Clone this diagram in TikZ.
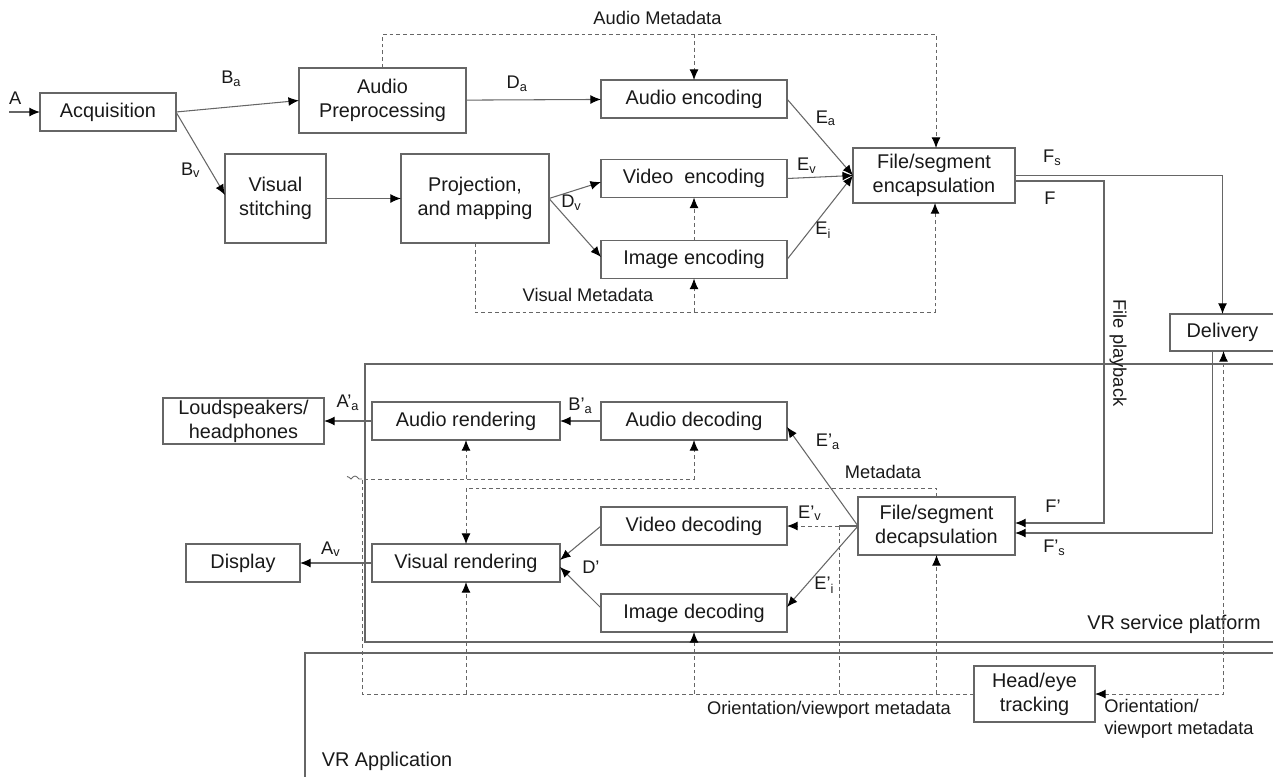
\documentclass[tikz,border=0pt]{standalone}
\usepackage{fontspec}
\setmainfont{Liberation Sans}
\usepackage{tikz}
\usetikzlibrary{positioning}
\usetikzlibrary{arrows.meta}
\definecolor{linegray}{gray}{0.4}
\definecolor{textgray}{gray}{0.1}
\def\boxfont{\fontsize{11.3}{13.6}\selectfont}
\def\lblfont{\fontsize{10.4}{12.5}\selectfont}

\begin{document}
\begin{tikzpicture}[
    >={Latex[length=6pt,width=5pt,color=black]},
    color=linegray, text=textgray, line width=0.6pt,
    box/.style={draw, rectangle, inner xsep=1pt, inner ysep=0.5pt, outer sep=0pt, align=center, font=\boxfont},
    lbl/.style={inner sep=1pt, font=\lblfont},
    meta/.style={line width=0.5pt, dash pattern=on 2.2pt off 1.7pt}]
    \useasboundingbox (0,0) rectangle (25.46,-15.52);
    \node[box, minimum width=2.72cm, minimum height=0.76cm] (acq) at (2.16,-2.24) {Acquisition};
    \node[box, minimum width=3.34cm, minimum height=1.30cm, right=2.46cm of acq, yshift=0.23cm] (apre) {Audio\\Preprocessing};
    \node[box, minimum width=2.02cm, minimum height=1.78cm, below right=0.46cm and 0.98cm of acq] (vst) {Visual\\stitching};
    \node[box, minimum width=2.96cm, minimum height=1.78cm, right=1.5cm of vst] (proj) {Projection,\\and mapping};
    \node[box, minimum width=3.72cm, minimum height=0.76cm, right=2.7cm of apre, yshift=0.03cm] (aenc) {Audio encoding};
    \node[box, minimum width=3.72cm, minimum height=0.76cm, right=1.04cm of proj, yshift=0.4cm] (venc) {Video\ \ encoding};
    \node[box, minimum width=3.72cm, minimum height=0.76cm, below=0.86cm of venc] (ienc) {Image encoding};
    \node[box, minimum width=3.24cm, minimum height=1.10cm, right=1.32cm of venc, yshift=0.06cm] (encap) {File/segment\\encapsulation};
    \node[box, minimum width=2.1cm, minimum height=0.74cm, below right=2.22cm and 3.1cm of encap] (deliv) {Delivery};

    \node[box, minimum width=3.72cm, minimum height=0.76cm, below=5.68cm of aenc] (adec) {Audio decoding};
    \node[box, minimum width=3.76cm, minimum height=0.76cm, left=0.82cm of adec] (aren) {Audio rendering};
    \node[box, minimum width=3.22cm, minimum height=0.92cm, left=0.96cm of aren] (spk) {Loudspeakers/\\headphones};
    \node[box, minimum width=3.72cm, minimum height=0.76cm, below=1.34cm of adec] (vdec) {Video decoding};
    \node[box, minimum width=3.72cm, minimum height=0.76cm, below=0.98cm of vdec] (idec) {Image decoding};
    \node[box, minimum width=3.76cm, minimum height=0.76cm, below=2.08cm of aren] (vren) {Visual rendering};
    \node[box, minimum width=2.28cm, minimum height=0.76cm, left=1.44cm of vren] (disp) {Display};
    \node[box, minimum width=3.14cm, minimum height=1.16cm, right=1.42cm of vdec] (decap) {File/segment\\decapsulation};
    \node[box, minimum width=2.42cm, minimum height=1.12cm, below=2.22cm of decap, xshift=1.96cm] (head) {Head/eye\\tracking};

    \draw (25.6,-7.28) -- (7.3,-7.28) -- (7.3,-12.84) -- (25.6,-12.84);
    \draw (25.6,-13.06) -- (6.1,-13.06) -- (6.1,-15.6);
    \node[font=\boxfont] (vrsp) at (23.48,-12.48) {VR service platform};
    \node[font=\boxfont] (vrapp) at (7.74,-15.22) {VR Application};

    \coordinate[left=0.62cm of acq] (ain);
    \draw[->] (ain) -- node[lbl, pos=0.2, above=3pt] {A} (acq);
    \draw[->] (acq.east) -- node[lbl, pos=0.45, above=0.36cm] {B\textsubscript{a}} (apre.west);
    \draw[->] (acq.east) -- node[lbl, pos=0.7, left=0.15cm] {B\textsubscript{v}} ([yshift=0.07cm]vst.west);
    \draw[->] (vst) edge (proj);
    \draw[->] (apre) -- node[lbl, pos=0.38, above=0.12cm] {D\textsubscript{a}} (aenc);
    \draw[->] (proj.east) -- ([yshift=-0.07cm]venc.west);
    \draw[->] (proj.east) -- ([yshift=0.05cm]ienc.west);
    \node[lbl, right=0.2cm of proj.east, yshift=-0.08cm] (dvlbl) {D\textsubscript{v}};
    \draw[->] (aenc.east) -- node[lbl, pos=0.25, right=0.2cm] {E\textsubscript{a}} (encap.west);
    \draw[->] (venc.east) -- node[lbl, pos=0.3, above=1pt] {E\textsubscript{v}} (encap.west);
    \draw[->] (ienc.east) -- node[lbl, pos=0.35, right=0.06cm] {E\textsubscript{i}} (encap.west);

    \draw[meta,->] (apre.north) -- ++(0,0.68) coordinate (amd) -| ([xshift=0.04cm]encap.north);
    \draw[meta,->] (amd -| aenc.north) -- (aenc.north);
    \node[lbl, above=0.15cm, xshift=-0.73cm] (amdlbl) at (amd -| aenc.north) {Audio Metadata};
    \draw[meta,->] (proj.south) -- ++(0,-1.38) coordinate (vmd) -| ([xshift=0.02cm]encap.south);
    \draw[meta,->] (vmd -| ienc.south) -- (ienc.south);
    \draw[meta,->] (ienc.north) -- (venc.south);
    \node[lbl, above=0.16cm, xshift=-2.12cm] (vmdlbl) at (vmd -| ienc.south) {Visual Metadata};

    \draw[->] (encap.east) -| node[lbl, pos=0.09, above=0.15cm] {F\textsubscript{s}} (deliv.north);
    \coordinate (fpb) at ([xshift=1.78cm,yshift=-0.11cm]encap.east);
    \draw[->] ([yshift=-0.11cm]encap.east) -- (fpb) |- ([yshift=0.06cm]decap.east);
    \node[lbl, below=0.17cm, xshift=-1.08cm] (flbl) at (fpb) {F};
    \node[lbl, rotate=-90] (fplbl) at ([xshift=0.28cm,yshift=-3.44cm]fpb) {File playback};
    \node[lbl, above=0.22cm, xshift=0.76cm] (fplbl2) at (decap.east) {F'};
    \draw[->] ([xshift=-0.2cm]deliv.south) |- node[lbl, pos=0.9, below=0.1cm] {F'\textsubscript{s}} ([yshift=-0.14cm]decap.east);
    \draw[meta,<->] (head.east) -| ([xshift=0.02cm]deliv.south);
    \node[lbl, align=left, anchor=north west] (orlbl) at ([xshift=0.14cm,yshift=-0.06cm]head.east) {Orientation/\\viewport metadata};

    \draw[meta,->] (head.west) -- node[lbl, pos=0.237, below=0.1cm] {Orientation/viewport metadata} ++(-12.24,0) coordinate (omd)
        -- ++(0,4.3) coordinate (mdl) -| (adec.south);
    \draw[line width=0.5pt] (mdl) -- ++(-0.06,0) sin ++(-0.08,0.06) cos ++(-0.08,-0.06) sin ++(-0.08,0.05);
    \draw[meta,->] (mdl -| aren.south) -- (aren.south);
    \draw[meta,->] (omd -| vren.south) -- (vren.south);
    \draw[meta,->] (omd -| idec.south) -- (idec.south);
    \draw[meta,->] (omd -| decap.south) -- (decap.south);
    \coordinate (evj) at ([xshift=-0.38cm]decap.west);
    \draw[meta] (evj |- omd) -- (evj);
    \draw[meta,->] (decap.north) -- ++(0,0.18) coordinate (mdr) -| (vren.north);
    \node[lbl, above=0.14cm, xshift=-1.07cm] (mdlbl) at (mdr) {Metadata};

    \draw[->] (decap.west) -- node[lbl, pos=0.85, right=0.32cm] {E'\textsubscript{a}} ([yshift=-0.12cm]adec.east);
    \draw (decap.west) -- (evj);
    \draw[meta,->] (evj) -- node[lbl, pos=0.56, above=0.06cm] {E'\textsubscript{v}} (vdec.east);
    \draw[->] (decap.west) -- node[lbl, pos=0.73, right=0.12cm] {E'\textsubscript{i}} ([yshift=0.12cm]idec.east);
    \draw[->] (vdec.west) -- ([yshift=0.06cm]vren.east);
    \draw[->] ([yshift=0.1cm]idec.west) -- ([yshift=-0.08cm]vren.east);
    \node[lbl, right=0.4cm of vren.east, yshift=-0.08cm] (dplbl) {D'};
    \draw[->] (adec) edge node[lbl, above=0.1cm] {B'\textsubscript{a}} (aren);
    \draw[->] (aren) edge node[lbl, above=0.16cm] {A'\textsubscript{a}} (spk);
    \draw[->] (vren) edge node[lbl, pos=0.57, above=0.08cm] {A\textsubscript{v}} (disp);
\end{tikzpicture}
\end{document}
